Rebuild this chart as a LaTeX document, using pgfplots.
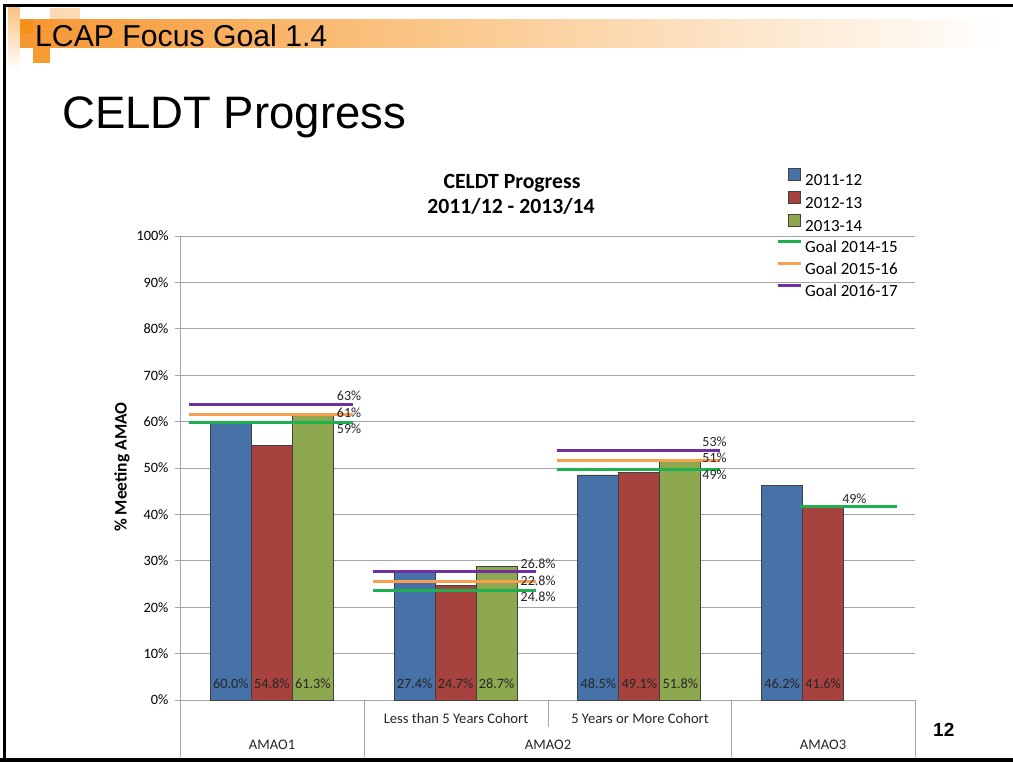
\documentclass[border=0pt]{standalone}
\usepackage{fontspec}
\setmainfont{Carlito}
\newfontfamily\arialfont{Liberation Sans}
\usepackage{pgfplots}
\pgfplotsset{compat=1.18}
\definecolor{barblue}{RGB}{70,114,168}
\definecolor{barred}{RGB}{168,66,63}
\definecolor{bargreen}{RGB}{142,168,80}
\definecolor{goalgreen}{RGB}{30,176,80}
\definecolor{goalorange}{RGB}{248,160,80}
\definecolor{goalpurple}{RGB}{112,48,160}
\definecolor{hdrA}{RGB}{246,150,50}
\definecolor{hdrB}{RGB}{250,195,130}
\definecolor{hdrSq}{RGB}{245,145,25}
\definecolor{gridgray}{RGB}{165,165,165}
\newcommand\fs[1]{\fontsize{#1pt}{#1pt}\selectfont}
\begin{document}
\begin{tikzpicture}[x=1pt,y=1pt]
\useasboundingbox (0,0) rectangle (1013,762);
\fill[white] (0,0) rectangle (1013,762);
% slide header decoration
\shade[top color=hdrB, bottom color=white] (8,692) rectangle (20,754);
\fill[hdrB!60] (50,742) rectangle (80,754);
\shade[left color=hdrA, right color=hdrB] (20,714) rectangle (400,742);
\shade[left color=hdrB, right color=white] (400,714) rectangle (1000,742);
\fill[hdrSq] (20,728) rectangle (33,742);
\fill[hdrSq!90] (33,699) rectangle (50,714);
% borders
\fill[black] (3,0) rectangle (6,757);
\fill[black] (3,754.5) rectangle (1013,757.5);
\fill[black] (0,0) rectangle (1013,4);
% slide texts
\node[anchor=base west, inner sep=0pt, font={\arialfont\fs{30.2}}] at (35,715) {LCAP Focus Goal 1.4};
\node[anchor=base west, inner sep=0pt, font={\arialfont\fs{45.5}}] at (62,633) {CELDT Progress};
\node[anchor=base west, inner sep=0pt, font={\arialfont\bfseries\fs{19}}] at (933,25) {12};
% chart title
\node[anchor=base, inner sep=0pt, font={\bfseries\fs{21.7}}] at (512,573) {CELDT Progress};
\node[anchor=base, inner sep=0pt, font={\bfseries\fs{21.7}}] at (511,548) {2011/12 - 2013/14};
\begin{axis}[
  at={(180pt,62pt)}, anchor=south west,
  width=735pt, height=464pt, scale only axis,
  xmin=-0.5, xmax=3.5, ymin=0, ymax=100,
  xtick=\empty,
  ytick={0,10,...,100},
  yticklabel={\pgfmathprintnumber{\tick}\%},
  /pgf/number format/assume math mode=true,
  yticklabel style={font=\fs{14.3}, xshift=-3pt},
  axis x line*=bottom, axis y line*=left,
  axis line style={draw=gridgray, line width=0.8pt, -},
  tick style={draw=gridgray, line width=0.8pt},
  tick align=outside, major tick length=5pt,
  ymajorgrids, grid style={draw=gridgray, line width=0.8pt},
  every axis y label/.style={at={(axis description cs:-0.0789,0.502)}, rotate=90, anchor=center, font={\bfseries\fs{17.5}}},
  ylabel={\% Meeting AMAO},
  unbounded coords=jump,
  clip=false,
  legend style={at={(0.8109,1.1466)}, anchor=north west, draw=none, fill=none,
    font=\fs{17}, inner sep=0pt, row sep=0pt, column sep=3pt,
    nodes={inner sep=0pt, text height=16.4pt, text depth=5.4pt}},
  legend cell align=left,
]
\addplot[ybar, bar width=41pt, bar shift=-41pt, fill=barblue, draw=black!75, line width=0.8pt,
  legend image code/.code={\draw[fill=barblue,draw=black!75,line width=0.8pt] (11pt,-0.5pt) rectangle (23pt,11.5pt);}]
  coordinates {(0,60.0) (1,27.4) (2,48.5) (3,46.2)};
\addlegendentry{2011-12}
\addplot[ybar, bar width=41pt, bar shift=0pt, fill=barred, draw=black!75, line width=0.8pt,
  legend image code/.code={\draw[fill=barred,draw=black!75,line width=0.8pt] (11pt,-0.5pt) rectangle (23pt,11.5pt);}]
  coordinates {(0,54.8) (1,24.7) (2,49.1) (3,41.6)};
\addlegendentry{2012-13}
\addplot[ybar, bar width=41pt, bar shift=41pt, fill=bargreen, draw=black!75, line width=0.8pt,
  legend image code/.code={\draw[fill=bargreen,draw=black!75,line width=0.8pt] (11pt,-0.5pt) rectangle (23pt,11.5pt);}]
  coordinates {(0,61.3) (1,28.7) (2,51.8)};
\addlegendentry{2013-14}
\addplot[goalgreen, line width=3pt, mark=none,
  legend image code/.code={\draw[goalgreen,line width=3pt] (0pt,5.5pt) -- (23pt,5.5pt);}]
  coordinates {(-0.45,59.7) (0.44,59.7) (0.44,nan) (0.55,23.5) (1.44,23.5) (1.44,nan) (1.55,49.7) (2.44,49.7) (2.44,nan) (2.875,41.8) (3.40,41.8)};
\addlegendentry{Goal 2014-15}
\addplot[goalorange, line width=3pt, mark=none,
  legend image code/.code={\draw[goalorange,line width=3pt] (0pt,5.5pt) -- (23pt,5.5pt);}]
  coordinates {(-0.45,61.6) (0.44,61.6) (0.44,nan) (0.55,25.5) (1.44,25.5) (1.44,nan) (1.55,51.6) (2.44,51.6)};
\addlegendentry{Goal 2015-16}
\addplot[goalpurple, line width=3pt, mark=none,
  legend image code/.code={\draw[goalpurple,line width=3pt] (0pt,5.5pt) -- (23pt,5.5pt);}]
  coordinates {(-0.45,63.6) (0.44,63.6) (0.44,nan) (0.55,27.6) (1.44,27.6) (1.44,nan) (1.55,53.7) (2.44,53.7)};
\addlegendentry{Goal 2016-17}
% goal labels
\begin{scope}[every node/.style={anchor=west, inner sep=0pt, font=\fs{14}, text=black!85}]
\node at (axis cs:0.353,65.5) {63\%};
\node at (axis cs:0.353,61.9) {61\%};
\node at (axis cs:0.353,58.4) {59\%};
\node at (axis cs:1.353,29.3) {26.8\%};
\node at (axis cs:1.353,25.6) {22.8\%};
\node at (axis cs:1.353,22.2) {24.8\%};
\node at (axis cs:2.342,55.6) {53\%};
\node at (axis cs:2.342,52.2) {51\%};
\node at (axis cs:2.342,48.5) {49\%};
\node at (axis cs:3.103,43.3) {49\%};
\end{scope}
% data labels
\begin{scope}[every node/.style={anchor=center, inner sep=0pt, font=\fs{14.3}, text=black!85}]
\node[xshift=-41pt] at (axis cs:0,3.45) {60.0\%};
\node at (axis cs:0,3.45) {54.8\%};
\node[xshift=41pt] at (axis cs:0,3.45) {61.3\%};
\node[xshift=-41pt] at (axis cs:1,3.45) {27.4\%};
\node at (axis cs:1,3.45) {24.7\%};
\node[xshift=41pt] at (axis cs:1,3.45) {28.7\%};
\node[xshift=-41pt] at (axis cs:2,3.45) {48.5\%};
\node at (axis cs:2,3.45) {49.1\%};
\node[xshift=41pt] at (axis cs:2,3.45) {51.8\%};
\node[xshift=-41pt] at (axis cs:3,3.45) {46.2\%};
\node at (axis cs:3,3.45) {41.6\%};
\end{scope}
\end{axis}
% category table below the axis
\draw[gridgray, line width=0.8pt] (180,62) -- (180,5);
\draw[gridgray, line width=0.8pt] (364,62) -- (364,5);
\draw[gridgray, line width=0.8pt] (548,62) -- (548,35);
\draw[gridgray, line width=0.8pt] (731,62) -- (731,5);
\draw[gridgray, line width=0.8pt] (915,62) -- (915,5);
\begin{scope}[every node/.style={anchor=center, inner sep=0pt, font=\fs{14.6}, text=black!85}]
\node at (456,44) {Less than 5 Years Cohort};
\node at (640,44) {5 Years or More Cohort};
\node at (272,17) {AMAO1};
\node at (548,17) {AMAO2};
\node at (823,17) {AMAO3};
\end{scope}
\end{tikzpicture}
\end{document}
